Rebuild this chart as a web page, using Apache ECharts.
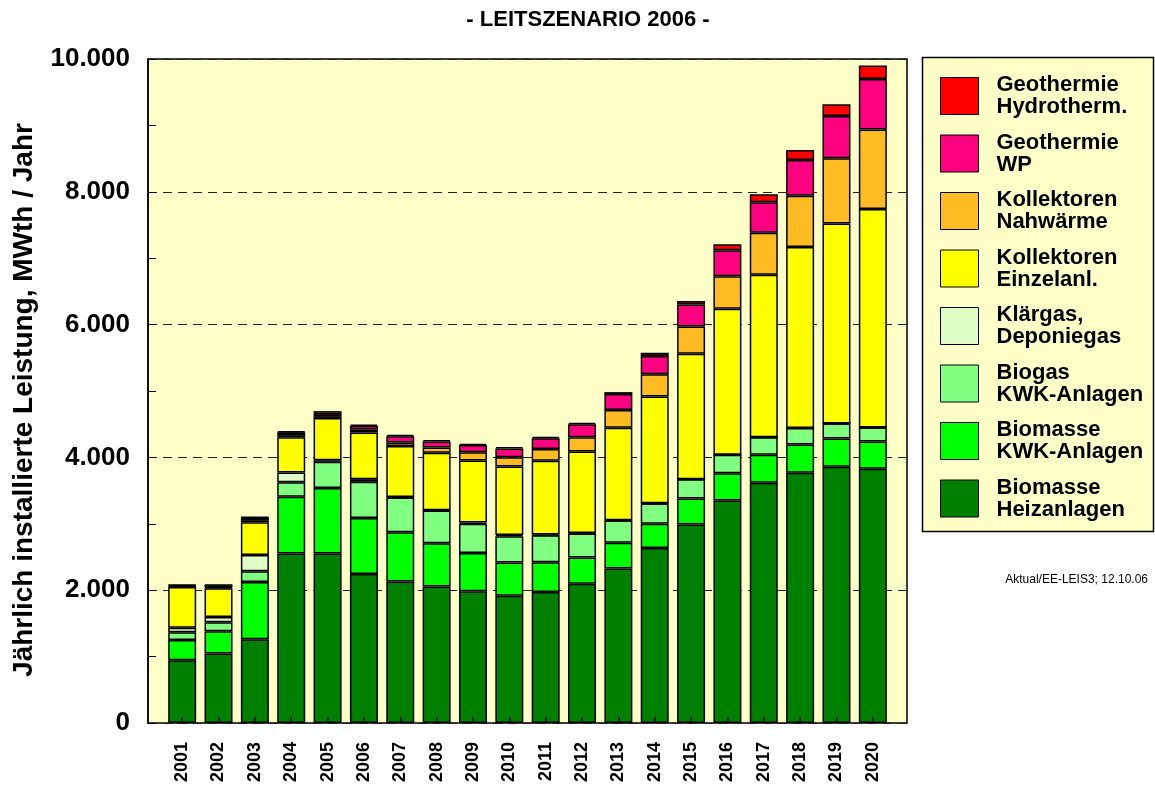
<!DOCTYPE html>
<html>
<head>
<meta charset="utf-8">
<script src="https://cdn.jsdelivr.net/npm/echarts@6/dist/echarts.min.js"></script>
<style>html,body{margin:0;padding:0;background:#fff}#c{width:1155px;height:787px}</style>
</head>
<body>
<div id="c"></div>
<script>
const years = ['2001','2002','2003','2004','2005','2006','2007','2008','2009','2010','2011','2012','2013','2014','2015','2016','2017','2018','2019','2020'];
const biomasseHeiz = [945,1045,1261,2551,2551,2245,2130,2054,1985,1918,1974,2099,2325,2637,2988,3350,3617,3768,3858,3828];
const biomasseKWK = [306,336,864,855,990,844,743,654,577,498,447,392,388,362,392,413,422,426,426,411];
const biogasKWK = [116,136,161,221,392,543,522,492,437,397,407,362,336,306,292,276,266,247,227,211];
const klaergas = [69,80,246,145,25,40,10,5,20,20,10,10,5,5,0,0,0,0,0,0];
const kollEinzel = [614,433,493,533,634,703,765,864,934,1030,1110,1226,1392,1608,1889,2200,2446,2728,3013,3291];
const kollNahw = [10,15,30,30,30,40,55,80,126,141,177,216,266,336,411,488,633,773,980,1196];
const geoWP = [15,30,40,45,50,60,95,90,106,130,165,196,241,272,332,391,457,538,639,763];
const geoHydro = [5,5,5,15,25,20,20,20,20,20,20,20,30,50,51,91,121,150,175,201];
const yTicks = [0,2000,4000,6000,8000,10000];

const FONT = 'Liberation Sans, Arial, sans-serif';
const BG = '#FFFFC8';
const seriesDefs = [
  ['Biomasse\nHeizanlagen', biomasseHeiz, '#008000'],
  ['Biomasse\nKWK-Anlagen', biomasseKWK, '#00FF00'],
  ['Biogas\nKWK-Anlagen', biogasKWK, '#80FF80'],
  ['Klärgas,\nDeponiegas', klaergas, '#DFFFC4'],
  ['Kollektoren\nEinzelanl.', kollEinzel, '#FFFF00'],
  ['Kollektoren\nNahwärme', kollNahw, '#FFBB22'],
  ['Geothermie\nWP', geoWP, '#FF0080'],
  ['Geothermie\nHydrotherm.', geoHydro, '#FF0000']
];

const chart = echarts.init(document.getElementById('c'), null, {renderer: 'canvas'});
chart.setOption({
  animation: false,
  backgroundColor: '#fff',
  title: {
    text: '- LEITSZENARIO 2006 -',
    left: 583, top: 4, textAlign: 'center',
    textStyle: {fontFamily: FONT, fontWeight: 'bold', fontSize: 22, color: '#000'}
  },
  grid: [
    {left: 148, top: 59, width: 759, height: 664, show: true, backgroundColor: BG, borderColor: '#000', borderWidth: 1.5, z: 0},
    {left: 164, top: 59, width: 727, height: 664}
  ],
  xAxis: [
    {gridIndex: 0, type: 'value', show: false, min: 0, max: 1},
    {gridIndex: 1, type: 'category', data: years, z: 10,
     axisLine: {show: false},
     axisTick: {show: true, inside: true, alignWithLabel: true, length: 6, lineStyle: {color: '#000', width: 1.5}},
     axisLabel: {rotate: 90, margin: 19, fontFamily: FONT, fontWeight: 'bold', fontSize: 18, color: '#000'}}
  ],
  yAxis: [
    {gridIndex: 0, type: 'value', min: 0, max: 10000, interval: 2000,
     name: 'Jährlich installierte Leistung, MWth / Jahr', nameLocation: 'middle', nameGap: 110,
     nameTextStyle: {fontFamily: FONT, fontWeight: 'bold', fontSize: 28, color: '#000', padding: [0, 18, 0, 0]},
     axisLine: {show: true, lineStyle: {color: '#000', width: 1.5}},
     axisTick: {show: true, inside: true, length: 8, lineStyle: {color: '#000', width: 1}},
     minorTick: {show: true, splitNumber: 2, length: 8, lineStyle: {color: '#000', width: 1}},
     splitLine: {show: true, lineStyle: {color: '#222', width: 1, type: [9, 6]}},
     axisLabel: {margin: 18, fontFamily: FONT, fontWeight: 'bold', fontSize: 26, color: '#000',
       formatter: v => yTicks.indexOf(v) >= 0 ? String(v).replace(/\B(?=(\d{3})+(?!\d))/g, '.') : ''}},
    {gridIndex: 1, type: 'value', min: 0, max: 10000, show: false}
  ],
  legend: {
    orient: 'vertical', left: 935, top: 69,
    icon: 'rect', itemWidth: 38, itemHeight: 37, itemGap: 13.5,
    data: seriesDefs.map(s => s[0]).reverse(),
    itemStyle: {borderColor: '#000', borderWidth: 1},
    textStyle: {fontFamily: FONT, fontWeight: 'bold', fontSize: 22, lineHeight: 22, color: '#000', padding: [0, 0, 0, 13]},
    selectedMode: false
  },
  graphic: [
    {type: 'rect', shape: {x: 922.5, y: 57.5, width: 231, height: 474}, style: {fill: BG, stroke: '#000', lineWidth: 1.5}, z: -1, silent: true},
    {type: 'text', right: 7, top: 574, style: {text: 'Aktual/EE-LEIS3; 12.10.06', fontFamily: FONT, fontSize: 12, fill: '#000'}}
  ],
  series: seriesDefs.map(s => ({
    name: s[0], type: 'bar', stack: 'total', xAxisIndex: 1, yAxisIndex: 1,
    barWidth: 28, data: s[1],
    itemStyle: {color: s[2], borderColor: '#000', borderWidth: 1.5}
  }))
});
</script>
</body>
</html>
